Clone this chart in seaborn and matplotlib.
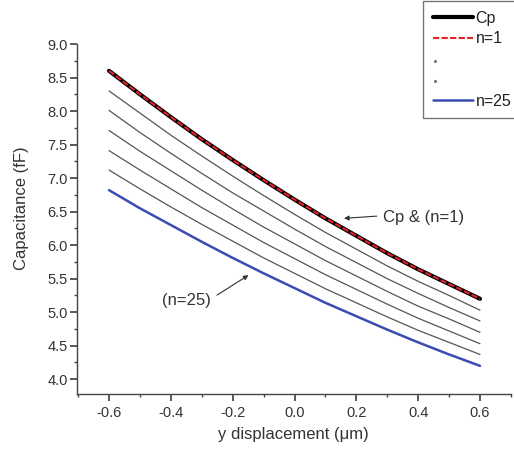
#!/usr/bin/env python3
"""Capacitance vs y displacement for Cp and the n=1..25 approximations."""

import matplotlib

matplotlib.use("Agg")
import matplotlib.pyplot as plt
import pandas as pd
import seaborn as sns
from matplotlib.legend_handler import HandlerBase
from matplotlib.lines import Line2D
from matplotlib.ticker import MultipleLocator

DISPLACEMENT = [-0.6, -0.5, -0.4, -0.3, -0.2, -0.1, 0.0, 0.1, 0.2, 0.3, 0.4, 0.5, 0.6]

CP = [8.60, 8.25, 7.91, 7.58, 7.27, 6.97, 6.68, 6.40, 6.14, 5.88, 5.64, 5.42, 5.20]
N1 = [8.60, 8.25, 7.91, 7.58, 7.27, 6.97, 6.68, 6.40, 6.14, 5.88, 5.64, 5.42, 5.20]
MID_CURVES = [
    [8.30, 7.97, 7.64, 7.33, 7.03, 6.74, 6.46, 6.19, 5.94, 5.69, 5.46, 5.25, 5.03],
    [8.01, 7.68, 7.37, 7.07, 6.78, 6.51, 6.24, 5.98, 5.74, 5.50, 5.28, 5.07, 4.87],
    [7.71, 7.40, 7.11, 6.82, 6.54, 6.27, 6.02, 5.77, 5.54, 5.31, 5.09, 4.90, 4.70],
    [7.41, 7.12, 6.84, 6.56, 6.30, 6.04, 5.80, 5.56, 5.34, 5.12, 4.91, 4.72, 4.53],
    [7.12, 6.84, 6.57, 6.31, 6.06, 5.81, 5.58, 5.35, 5.14, 4.93, 4.73, 4.55, 4.37],
]
N25 = [6.82, 6.55, 6.30, 6.05, 5.81, 5.58, 5.36, 5.14, 4.94, 4.74, 4.55, 4.37, 4.20]

X_TICKS = [-0.6, -0.4, -0.2, 0.0, 0.2, 0.4, 0.6]
X_TICK_LABELS = ["-0.6", "-0.4", "-0.2", "0.0", "0.2", "0.4", "0.6"]
Y_TICKS = [4.0, 4.5, 5.0, 5.5, 6.0, 6.5, 7.0, 7.5, 8.0, 8.5, 9.0]

TEXT = "#333333"
BLUE = "#3a4cb4"
RED = "#e8202a"
DASH = (0, (3.0, 1.1))


class DotHandler(HandlerBase):
    # legend entry that is only a tiny dot at the left of the handle slot
    def create_artists(self, legend, orig_handle, xdescent, ydescent, width, height, fontsize, trans):
        dot = Line2D([-xdescent + 2], [height * 0.3 - ydescent], marker=".", ms=2.4,
                     color="0.45", ls="none", transform=trans)
        return [dot]


def configure_style():
    sns.set_theme(style="ticks")
    plt.rcParams.update(
        {
            "font.family": ["Liberation Sans", "DejaVu Sans"],
            "axes.unicode_minus": False,
            "axes.edgecolor": "#444444",
            "axes.linewidth": 1.0,
            "xtick.color": "#444444",
            "ytick.color": "#444444",
            "xtick.labelcolor": TEXT,
            "ytick.labelcolor": TEXT,
            "xtick.direction": "out",
            "ytick.direction": "out",
            "xtick.major.size": 5,
            "ytick.major.size": 5,
            "xtick.minor.size": 2.5,
            "ytick.minor.size": 2.5,
            "xtick.major.pad": 3.5,
            "ytick.major.pad": 1.5,
            "xtick.labelsize": 10.5,
            "ytick.labelsize": 10.5,
        }
    )


def main():
    configure_style()
    df = pd.DataFrame({"x": DISPLACEMENT, "cp": CP, "n1": N1, "n25": N25})

    fig = plt.figure(figsize=(5.14, 4.59), dpi=100)
    ax = fig.add_axes([0.149, 0.1416, 0.845, 0.7625])

    for ys in MID_CURVES:
        sns.lineplot(x=DISPLACEMENT, y=ys, ax=ax, color="#555555", lw=0.9)
    sns.lineplot(data=df, x="x", y="n25", ax=ax, color=BLUE, lw=1.8)
    sns.lineplot(data=df, x="x", y="cp", ax=ax, color="black", lw=3.0)
    sns.lineplot(data=df, x="x", y="n1", ax=ax, color=RED, lw=1.5, linestyle=DASH)

    ax.set_xlim(-0.705, 0.7)
    ax.set_ylim(3.78, 9.0)
    ax.set_xticks(X_TICKS)
    ax.set_xticklabels(X_TICK_LABELS)
    ax.set_yticks(Y_TICKS)
    ax.xaxis.set_minor_locator(MultipleLocator(0.1))
    ax.yaxis.set_minor_locator(MultipleLocator(0.25))
    sns.despine(ax=ax)

    ax.set_xlabel("y displacement (\u03bcm)", fontsize=12, color=TEXT, labelpad=5)
    ax.set_ylabel("Capacitance (fF)", fontsize=12, color=TEXT)
    ax.yaxis.set_label_coords(-0.11, 0.53)

    arrow = {"arrowstyle": "-|>", "color": "#333333", "lw": 0.8,
             "shrinkA": 0, "shrinkB": 0, "mutation_scale": 7}
    ax.annotate("", xy=(0.160, 6.40), xytext=(0.266, 6.433), arrowprops=arrow)
    ax.text(0.287, 6.418, "Cp & (n=1)", fontsize=12, color=TEXT, va="center", ha="left")
    ax.annotate("", xy=(-0.149, 5.552), xytext=(-0.251, 5.254), arrowprops=arrow)
    ax.text(-0.349, 5.18, "(n=25)", fontsize=12, color=TEXT, va="center", ha="center")

    handles = [
        Line2D([], [], color="black", lw=3.0),
        Line2D([], [], color=RED, lw=1.5, linestyle=DASH),
        Line2D([], [], ls="none"),
        Line2D([], [], ls="none"),
        Line2D([], [], color=BLUE, lw=1.8),
    ]
    leg = fig.legend(
        handles,
        ["Cp", "n=1", "", "", "n=25"],
        handler_map={h: DotHandler() for h in handles[2:4]},
        loc="upper left",
        bbox_to_anchor=(0.823, 0.998),
        fontsize=11.5,
        frameon=True,
        fancybox=False,
        handlelength=2.5,
        handletextpad=0.2,
        labelspacing=0.36,
        borderpad=0.6,
        borderaxespad=0,
    )
    leg.get_frame().set_edgecolor("#555555")
    leg.get_frame().set_linewidth(1.0)
    for t in leg.get_texts():
        t.set_color("#222222")

    fig.savefig("out.png", dpi=100)
    plt.close(fig)


if __name__ == "__main__":
    main()
